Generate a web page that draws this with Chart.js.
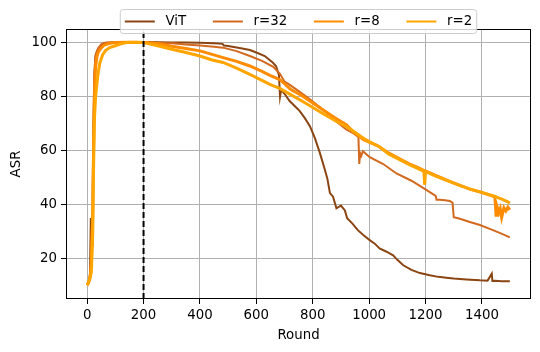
<!DOCTYPE html>
<html>
<head>
<meta charset="utf-8">
<script src="https://cdn.jsdelivr.net/npm/chart.js@4.4.0/dist/chart.umd.min.js"></script>
<style>
  body { margin: 0; background: white; }
  canvas { display: block; }
</style>
</head>
<body>
<canvas id="chart" width="540" height="352"></canvas>
<script>
// values (round -> ASR)
const vitRounds = [0,5,10,13,15,18,20,23,26,30,35,40,50,60,80,100,150,200,250,300,350,400,450,480,485,500,550,577,600,630,659,670,680,684,688,700,718,736,754,772,790,808,825,843,852,861,872,884,900,914,922,940,960,979,1002,1020,1037,1060,1085,1100,1121,1150,1180,1215,1245,1274,1300,1333,1360,1393,1420,1435,1437,1446,1470,1499]
const vitAsr = [10.5,11,13,35,18,25,45,70,88,95,96.5,97.5,99,99.8,100,100,100.1,100.2,100.1,100,100,99.9,99.7,99.5,98.9,98.7,97.8,97.2,96.3,95,92.5,91.2,88,80,82.5,81,78.3,76.5,74.6,72,69,64.5,59.2,52.9,49.5,44.2,42.9,38.6,39.6,37.8,34.9,33,30.5,28.7,26.8,25.5,23.7,22.6,21.2,19.5,17.5,15.8,14.6,13.8,13.2,12.9,12.6,12.3,12.1,11.9,11.8,14.4,11.7,11.8,11.6,11.6]

const r32Rounds = [0,5,10,15,18,20,23,26,30,35,40,50,60,80,100,150,200,250,300,350,400,450,482,530,577,620,660,683,700,720,750,790,820,850,880,920,945,962,965,968,972,978,1002,1050,1097,1150,1197,1236,1239,1250,1270,1286,1296,1300,1322,1357,1393,1430,1465,1499]
const r32Asr = [10.5,11.5,14,25,35,50,75,90,95.5,97,98,99.3,99.8,100,100,100,100.1,99.9,99.7,99.3,98.9,98.4,98.1,96.8,95,93.2,91,88.5,85.5,84.2,82,79,76.5,74,71,67.7,66.3,65,55,59,58,59.7,57.5,55,51.5,48.8,45.8,43.2,41.8,41.8,41.6,41.3,40.6,35.3,34.7,33.5,32.4,30.9,29.4,27.8]

const r8Rounds = [0,5,10,15,20,23,26,30,35,40,50,60,80,100,150,200,250,300,350,400,440,482,530,577,620,648,683,720,760,799,840,880,920,943,962,980,1002,1035,1070,1110,1144,1170,1197,1240,1286,1320,1357,1400,1446,1450,1453,1460,1465,1470,1478,1485,1492,1499]
const r8Asr = [10.3,11.2,13,18,38,62,82,91,95,96.5,98,99,99.7,100,100.1,100,99.6,98.6,97.8,96.9,95.7,94.4,93,91.3,89.3,87.8,86.3,82.8,80.4,77.7,74.8,72,69.5,67,65.5,64,63,61.5,59,56.8,55,53.8,52.5,50.6,48.6,47.2,45.7,44.4,42.8,36,39.5,37,38.5,35.2,38.8,37.6,39,38]

const r2Rounds = [0,5,10,15,20,23,26,30,33,38,45,55,65,80,100,120,140,170,200,250,300,350,400,440,482,530,577,620,648,683,720,760,799,840,880,920,943,980,1002,1035,1070,1110,1144,1170,1194,1197,1200,1240,1286,1320,1357,1400,1446,1470,1492,1499]
const r2Asr = [10,11,12.5,15,30,55,72,80,83,88,92.5,95.5,97,98.1,98.8,99.5,100,100.1,100,98.8,97.5,96.3,95,93.6,92.6,90.5,88.2,86,84.5,83,80.8,78.4,76,73.4,71,68.8,67.2,64.5,63.2,61.5,58.6,56.5,54.7,53.5,52.3,47.3,52.2,50.3,48.5,47.1,45.8,44.5,43,42,41,40.5]

const cutoffRound = 200
const xTicks = [0, 200, 400, 600, 800, 1000, 1200, 1400]
const yTicks = [20, 40, 60, 80, 100]

const toPoints = (rounds, values) => rounds.map((r, i) => ({ x: r, y: values[i] }))

const font = { family: 'DejaVu Sans', size: 13.33 }

const frameAndLegend = {
  id: 'frameAndLegend',
  afterDraw (chart) {
    const { ctx, chartArea: a } = chart
    ctx.save()
    ctx.strokeStyle = 'black'
    ctx.lineWidth = 1
    ctx.strokeRect(a.left + 0.5, a.top + 0.5, a.right - a.left - 1, a.bottom - a.top - 1)

    // legend box like matplotlib's, half over the top spine
    ctx.font = '13.33px "DejaVu Sans"'
    const items = chart.data.datasets.filter(d => d.label)
    const widths = items.map(d => 30 + 10.7 + ctx.measureText(d.label).width)
    const gap = 26.7
    const pad = 4.5
    const inner = widths.reduce((s, w) => s + w, 0) + gap * (items.length - 1)
    const boxW = inner + pad * 2
    const boxL = (a.left + a.right) / 2 - boxW / 2
    const boxT = 9.5
    const boxH = 24
    const cy = boxT + boxH / 2

    ctx.beginPath()
    ctx.roundRect(boxL, boxT, boxW, boxH, 3)
    ctx.fillStyle = 'rgba(255,255,255,0.8)'
    ctx.fill()
    ctx.strokeStyle = '#cccccc'
    ctx.stroke()

    let x = boxL + pad
    items.forEach((d, i) => {
      ctx.beginPath()
      ctx.strokeStyle = d.borderColor
      ctx.lineWidth = 2
      ctx.moveTo(x, cy)
      ctx.lineTo(x + 30, cy)
      ctx.stroke()
      ctx.fillStyle = 'black'
      ctx.textBaseline = 'middle'
      ctx.fillText(d.label, x + 40.7, cy)
      x += widths[i] + gap
    })
    ctx.restore()
  }
}

const lineSet = (label, rounds, values, color, width, order) => ({
  label,
  data: toPoints(rounds, values),
  borderColor: color,
  backgroundColor: color,
  borderWidth: width,
  pointRadius: 0,
  tension: 0,
  order
})

const ctx = document.getElementById('chart')

const chart = new Chart(ctx, {
  type: 'line',
  data: {
    datasets: [
      lineSet('ViT', vitRounds, vitAsr, '#8B4513', 2, 4),
      lineSet('r=32', r32Rounds, r32Asr, '#D2691E', 2, 3),
      lineSet('r=8', r8Rounds, r8Asr, '#FF8C00', 3, 2),
      lineSet('r=2', r2Rounds, r2Asr, '#FFA500', 3, 1),
      {
        label: '',
        data: [{ x: cutoffRound, y: 5 }, { x: cutoffRound, y: 105 }],
        borderColor: 'black',
        borderWidth: 2,
        borderDash: [6, 3],
        pointRadius: 0,
        order: 0
      }
    ]
  },
  options: {
    responsive: false,
    animation: false,
    layout: { padding: { top: 29, right: 9, left: 0, bottom: 0 } },
    plugins: {
      legend: { display: false },
      tooltip: { enabled: false }
    },
    scales: {
      x: {
        type: 'linear',
        min: -75,
        max: 1574,
        afterBuildTicks: scale => { scale.ticks = xTicks.map(v => ({ value: v })) },
        afterFit: scale => { scale.height = 53 },
        ticks: { color: 'black', font, padding: 4, maxRotation: 0, callback: v => String(v) },
        grid: { color: '#b0b0b0', lineWidth: 1, tickColor: 'black', tickLength: 5, tickWidth: 1 },
        border: { display: false },
        title: { display: true, text: 'Round', color: 'black', font, padding: { top: 0, bottom: 8 } }
      },
      y: {
        min: 5,
        max: 105,
        afterBuildTicks: scale => { scale.ticks = yTicks.map(v => ({ value: v })) },
        afterFit: scale => { scale.width = 66 },
        ticks: { color: 'black', font, padding: 4, callback: v => String(v) },
        grid: { color: '#b0b0b0', lineWidth: 1, tickColor: 'black', tickLength: 5, tickWidth: 1 },
        border: { display: false },
        title: { display: true, text: 'ASR', color: 'black', font, padding: { top: 9, bottom: 0 } }
      }
    }
  },
  plugins: [frameAndLegend]
});
</script>
</body>
</html>
